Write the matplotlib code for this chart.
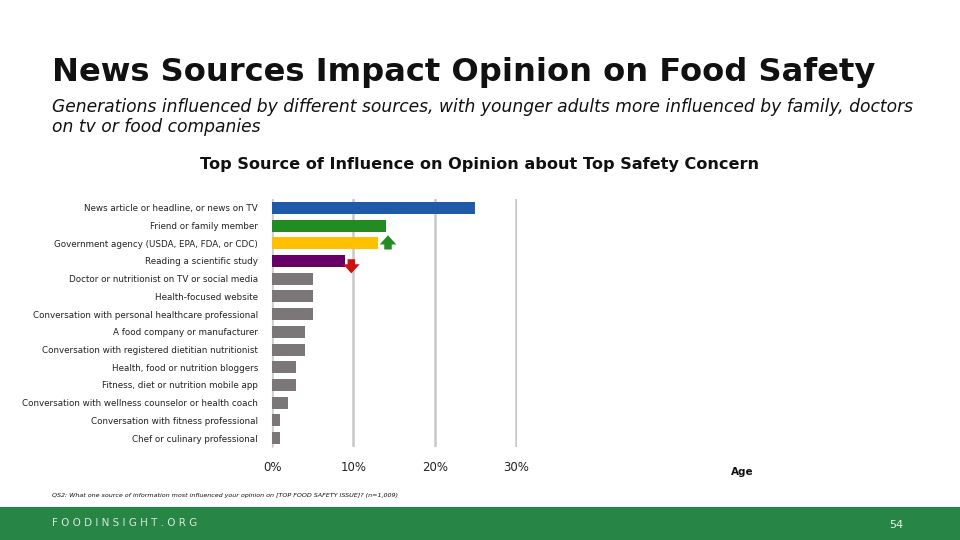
import matplotlib
matplotlib.use("Agg")
import matplotlib.pyplot as plt
from matplotlib.patches import Rectangle

# data
sources = [
    "News article or headline, or news on TV",
    "Friend or family member",
    "Government agency (USDA, EPA, FDA, or CDC)",
    "Reading a scientific study",
    "Doctor or nutritionist on TV or social media",
    "Health-focused website",
    "Conversation with personal healthcare professional",
    "A food company or manufacturer",
    "Conversation with registered dietitian nutritionist",
    "Health, food or nutrition bloggers",
    "Fitness, diet or nutrition mobile app",
    "Conversation with wellness counselor or health coach",
    "Conversation with fitness professional",
    "Chef or culinary professional",
]
pct = [25, 14, 13, 9, 5, 5, 5, 4, 4, 3, 3, 2, 1, 1]
bar_colors = ["#1f5aa8", "#228b22", "#ffc000", "#660066"] + ["#7b7778"] * 10
x_ticks = [0, 10, 20, 30]
# change vs previous year: +1 up, -1 down
trend = {2: 1, 3: -1}

fig = plt.figure(figsize=(9.6, 5.4), dpi=100)
fig.patch.set_facecolor("white")

# titles
fig.text(52 / 960, 1 - 72 / 540, "News Sources Impact Opinion on Food Safety",
         fontsize=23.1, fontweight="bold", color="#111111", va="center")
fig.text(52 / 960, 1 - 117 / 540,
         "Generations influenced by different sources, with younger adults more influenced by family, doctors\non tv or food companies",
         fontsize=12.3, style="italic", color="#111111", va="center", linespacing=1.1)
fig.text(480 / 960, 1 - 165 / 540, "Top Source of Influence on Opinion about Top Safety Concern",
         fontsize=11.6, fontweight="bold", color="#111111", ha="center", va="center")

ax = fig.add_axes([272 / 960, 1 - 447 / 540, 245 / 960, 248 / 540])
y = list(range(len(sources)))
ax.barh(y, pct, height=0.68, color=bar_colors, zorder=3)
ax.set_ylim(len(sources) - 0.5, -0.5)
ax.set_xlim(0, 30.1)
ax.set_yticks(y)
ax.set_yticklabels(sources, fontsize=6.3, color="#222222")
ax.set_xticks(x_ticks)
ax.set_xticklabels([f"{t}%" for t in x_ticks], fontsize=8.5, color="#222222")
ax.tick_params(axis="both", length=0)
ax.tick_params(axis="y", pad=10)
ax.tick_params(axis="x", pad=10)
ax.grid(axis="x", color="#c8c8c8", linewidth=1.8, zorder=0)
for s in ["top", "right", "bottom"]:
    ax.spines[s].set_visible(False)
ax.spines["left"].set_color("#d0d0d0")

# trend arrows next to bars
astyle = "simple,head_width=1.0,head_length=0.55,tail_width=0.45"
for i, d in trend.items():
    if d > 0:
        xa = pct[i] + 1.25
        ax.annotate("", xy=(xa, i - 0.45), xytext=(xa, i + 0.35),
                    arrowprops=dict(arrowstyle=astyle, color="#228b22", lw=0,
                                    mutation_scale=12, shrinkA=0, shrinkB=0))
    else:
        xa = pct[i] + 0.75
        ax.annotate("", xy=(xa, i + 0.7), xytext=(xa, i - 0.1),
                    arrowprops=dict(arrowstyle=astyle, color="#cc1111", lw=0,
                                    mutation_scale=12, shrinkA=0, shrinkB=0))

fig.text(742 / 960, 1 - 472 / 540, "Age", fontsize=7.5, fontweight="bold",
         color="#111111", ha="center", va="center")

fig.text(52 / 960, 1 - 496 / 540,
         "QS2: What one source of information most influenced your opinion on [TOP FOOD SAFETY ISSUE]? (n=1,009)",
         fontsize=4.6, style="italic", color="#111111", va="center")

# footer band
fig.patches.append(Rectangle((0, 0), 1, 33 / 540, transform=fig.transFigure,
                             facecolor="#278546", edgecolor="none", zorder=0))
fig.text(52 / 960, 1 - 523 / 540, "F O O D I N S I G H T . O R G", fontsize=7.5,
         color="#d8e6dc", va="center")
fig.text(896 / 960, 1 - 525 / 540, "54", fontsize=8, color="#e8f0ea",
         ha="center", va="center")

fig.savefig("out.png", dpi=100)
